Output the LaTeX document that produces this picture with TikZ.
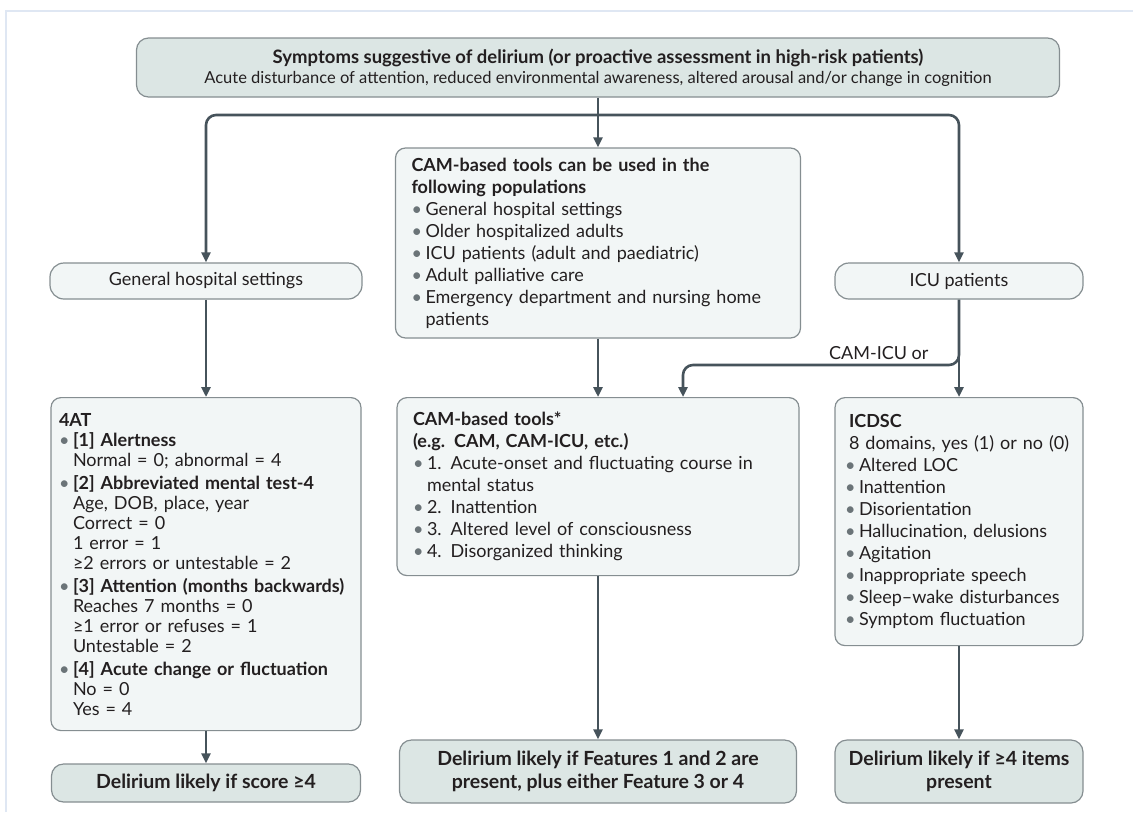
\documentclass[tikz,border=0pt]{standalone}
\usepackage{fontspec}
\setmainfont{Lato}
\usetikzlibrary{arrows.meta}

\definecolor{boxline}{HTML}{858E91}
\definecolor{boxfill}{HTML}{F2F6F6}
\definecolor{boxdark}{HTML}{DCE6E4}
\definecolor{arrowcol}{HTML}{46535B}
\definecolor{framecol}{HTML}{DFE7F3}
\definecolor{bulcol}{HTML}{6B7478}
\definecolor{txtcol}{HTML}{231F20}

% bullet list used inside the boxes
\newlength{\itmskip}
\setlength{\itmskip}{0pt}
\newenvironment{blist}{\list{\textcolor{bulcol}{•}}{%
  \leftmargin=14pt\labelwidth=14pt\labelsep=0pt\itemindent=0pt
  \itemsep=\itmskip\parsep=0pt\topsep=0pt\partopsep=0pt
  \def\makelabel##1{##1\hfil}}}{\endlist}

\tikzset{
  listbox/.style={draw=boxline, fill=boxfill, line width=1.2pt,
    rounded corners=10pt, align=left, text=txtcol, inner ysep=6pt,
    font=\fontsize{18}{22}\selectfont},
  tagbox/.style={draw=boxline, fill=boxfill, line width=1.2pt,
    rounded corners=14pt, text=txtcol, minimum height=36pt,
    font=\fontsize{18}{22}\selectfont},
  resbox/.style={draw=boxline, fill=boxdark, line width=1.2pt,
    rounded corners=12pt, align=center, text=txtcol,
    font=\bfseries\fontsize{19.5}{23}\selectfont},
  arr/.style={draw=arrowcol, line width=2.6pt,
    -{Triangle[length=10pt,width=9pt]}}
}

\begin{document}
\begin{tikzpicture}[x=1pt, y=-1pt]
  \useasboundingbox (0,0) rectangle (1133,812);
  % frame
  \draw[framecol, line width=2pt] (6,812) -- (6,11) -- (1133,11);

  % top box
  \node[resbox, minimum width=923pt, minimum height=59pt, inner sep=0pt,
        font=\fontsize{16.5}{20}\selectfont] (top) at (598,67.5)
    {{\bfseries\fontsize{18.5}{20}\selectfont Symptoms suggestive of delirium (or proactive assessment in high-risk patients)}\\
     Acute disturbance of attention, reduced environmental awareness, altered arousal and/or change in cognition};

  % second row
  \node[tagbox, minimum width=312pt] (gen) at (206,281) {General hospital settings};
  \node[tagbox, minimum width=248pt] (icu) at (959,281) {ICU patients};
  \node[listbox, text width=373pt, inner xsep=16pt, minimum height=190pt] (camuse) at (598,243)
    {\textbf{CAM-based tools can be used in the\\following populations}
     \begin{blist}
     \item General hospital settings
     \item Older hospitalized adults
     \item ICU patients (adult and paediatric)
     \item Adult palliative care
     \item Emergency department and nursing home\\patients
     \end{blist}};

  % tools
  \node[listbox, anchor=north, text width=294pt, inner xsep=8pt, minimum height=333pt,
        font=\fontsize{18}{20}\selectfont] (fourat) at (206,397)
    {\setlength{\itmskip}{3pt}\textbf{4AT}
     \begin{blist}
     \item \textbf{[1] Alertness}\\Normal = 0; abnormal = 4
     \item \textbf{[2] Abbreviated mental test-4}\\Age, DOB, place, year\\Correct = 0\\1 error = 1\\≥2 errors or untestable = 2
     \item \textbf{[3] Attention (months backwards)}\\Reaches 7 months = 0\\≥1 error or refuses = 1\\Untestable = 2
     \item \textbf{[4] Acute change or fluctuation}\\No = 0\\Yes = 4
     \end{blist}};
  \node[listbox, anchor=north, text width=370pt, inner xsep=16pt, minimum height=178pt] (camtools) at (598,397)
    {\textbf{CAM-based tools*}\\\textbf{(e.g. CAM, CAM-ICU, etc.)}
     \begin{blist}
     \item 1. Acute-onset and fluctuating course in\\mental status
     \item 2. Inattention
     \item 3. Altered level of consciousness
     \item 4. Disorganized thinking
     \end{blist}};
  \node[listbox, anchor=north, text width=228pt, inner xsep=10pt, minimum height=248pt] (icdsc) at (959,397)
    {\hspace*{4pt}\textbf{ICDSC}\\\hspace*{4pt}8 domains, yes (1) or no (0)
     \begin{blist}
     \item Altered LOC
     \item Inattention
     \item Disorientation
     \item Hallucination, delusions
     \item Agitation
     \item Inappropriate speech
     \item Sleep–wake disturbances
     \item Symptom fluctuation
     \end{blist}};

  % results
  \node[resbox, minimum width=309pt, minimum height=38pt] (res1) at (206,783)
    {Delirium likely if score ≥4};
  \node[resbox, minimum width=397pt, minimum height=63pt] (res2) at (598,771.5)
    {Delirium likely if Features 1 and 2 are\\present, plus either Feature 3 or 4};
  \node[resbox, minimum width=248pt, minimum height=63pt] (res3) at (959,771.5)
    {Delirium likely if ≥4 items\\present};

  % connectors
  \coordinate (split) at (598,115);
  \coordinate (bend) at (683,365);
  \draw[arr] (top.south) -- (camuse.north);
  \draw[arr, rounded corners=10pt] (split) -| (gen.north);
  \draw[arr, rounded corners=10pt] (split) -| (icu.north);
  \draw[arr] (gen.south) -- (fourat.north);
  \draw[arr] (camuse.south) -- (camtools.north);
  \draw[arr] (icu.south) -- (icdsc.north);
  \draw[arr, rounded corners=10pt] (icu.south) |- (bend) -- (bend |- camtools.north);
  \node[text=txtcol, anchor=south east, font=\fontsize{18}{20}\selectfont] (camicu) at (932,363) {CAM-ICU or};
  \draw[arr] (fourat.south) -- (res1.north);
  \draw[arr] (camtools.south) -- (res2.north);
  \draw[arr] (icdsc.south) -- (res3.north);
\end{tikzpicture}
\end{document}
